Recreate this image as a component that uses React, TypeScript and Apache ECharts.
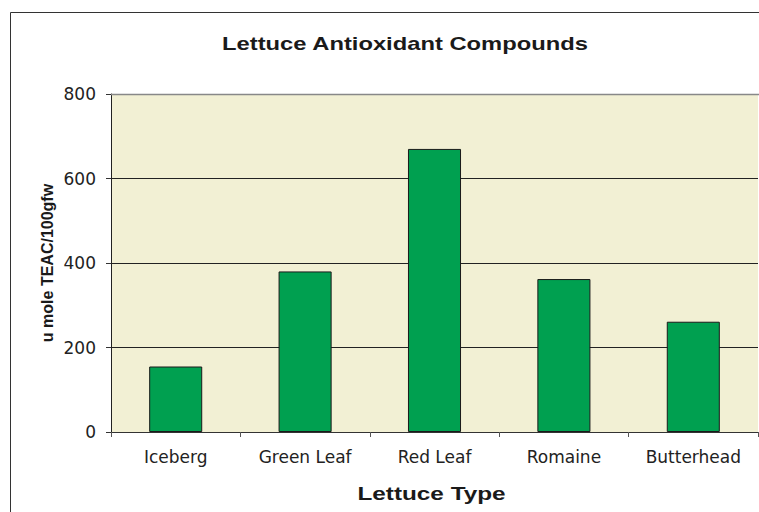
import React, { useEffect, useRef } from "react";
import * as echarts from "echarts";

const categories = ["Iceberg", "Green Leaf", "Red Leaf", "Romaine", "Butterhead"];
const values = [155, 380, 670, 362, 261];
const titleText = "Lettuce Antioxidant Compounds";
const yAxisTitle = "u mole TEAC/100gfw";
const xAxisTitle = "Lettuce Type";

export default function App() {
  const ref = useRef<HTMLDivElement>(null);
  useEffect(() => {
    if (!ref.current) return;
    const chart = echarts.init(ref.current, null, { renderer: "svg" });
    const font = "Liberation Sans, Arial, sans-serif";
    const labelFont = "DejaVu Sans, sans-serif";
    chart.setOption({
      animation: false,
      backgroundColor: "#ffffff",
      textStyle: { fontFamily: font },
      grid: { left: 111, top: 94, right: 1, bottom: 80, containLabel: false, show: true, backgroundColor: "#F2F0D4", borderWidth: 0 },
      graphic: [
        { type: "line", shape: { x1: 10.5, y1: 12.5, x2: 10.5, y2: 512 }, style: { stroke: "#333", lineWidth: 1 } },
        { type: "line", shape: { x1: 10.5, y1: 12.5, x2: 759, y2: 12.5 }, style: { stroke: "#333", lineWidth: 1 } },
        { type: "line", shape: { x1: 111, y1: 94.5, x2: 759, y2: 94.5 }, style: { stroke: "#888", lineWidth: 1.5 }, z: 10 },
        { type: "text", x: 405, y: 44, scaleX: 1.25, style: { text: titleText, font: "bold 19px " + font, fill: "#1a1a1a", textAlign: "center", textVerticalAlign: "middle" } },
        { type: "text", x: 47, y: 263, rotation: Math.PI / 2, style: { text: yAxisTitle, font: "bold 16px " + font, fill: "#1a1a1a", textAlign: "center", textVerticalAlign: "middle" } },
        { type: "text", x: 431.5, y: 493.5, scaleX: 1.28, style: { text: xAxisTitle, font: "bold 19px " + font, fill: "#1a1a1a", textAlign: "center", textVerticalAlign: "middle" } },
      ],
      xAxis: {
        type: "category",
        data: categories,
        axisLine: { show: true, lineStyle: { color: "#333", width: 1 } },
        axisTick: { show: true, length: 5, alignWithLabel: false, lineStyle: { color: "#555" } },
        axisLabel: { margin: 16, fontSize: 17, color: "#222", fontFamily: labelFont },
      },
      yAxis: {
        type: "value",
        min: 0,
        max: 800,
        interval: 200,
        axisLine: { show: true, lineStyle: { color: "#222", width: 1 } },
        axisTick: { show: true, length: 5, lineStyle: { color: "#333" } },
        axisLabel: { margin: 15, fontSize: 17, color: "#222", fontFamily: labelFont },
        splitLine: { show: true, lineStyle: { color: "#222", width: 1 } },
      },
      series: [
        {
          type: "bar",
          data: values,
          barWidth: "41%",
          itemStyle: { color: "#00A050", borderColor: "#1a1a1a", borderWidth: 1 },
        },
      ],
    });
    return () => chart.dispose();
  }, []);
  return <div ref={ref} style={{ position: "absolute", left: 0, top: 0, width: 759, height: 512 }} />;
}
